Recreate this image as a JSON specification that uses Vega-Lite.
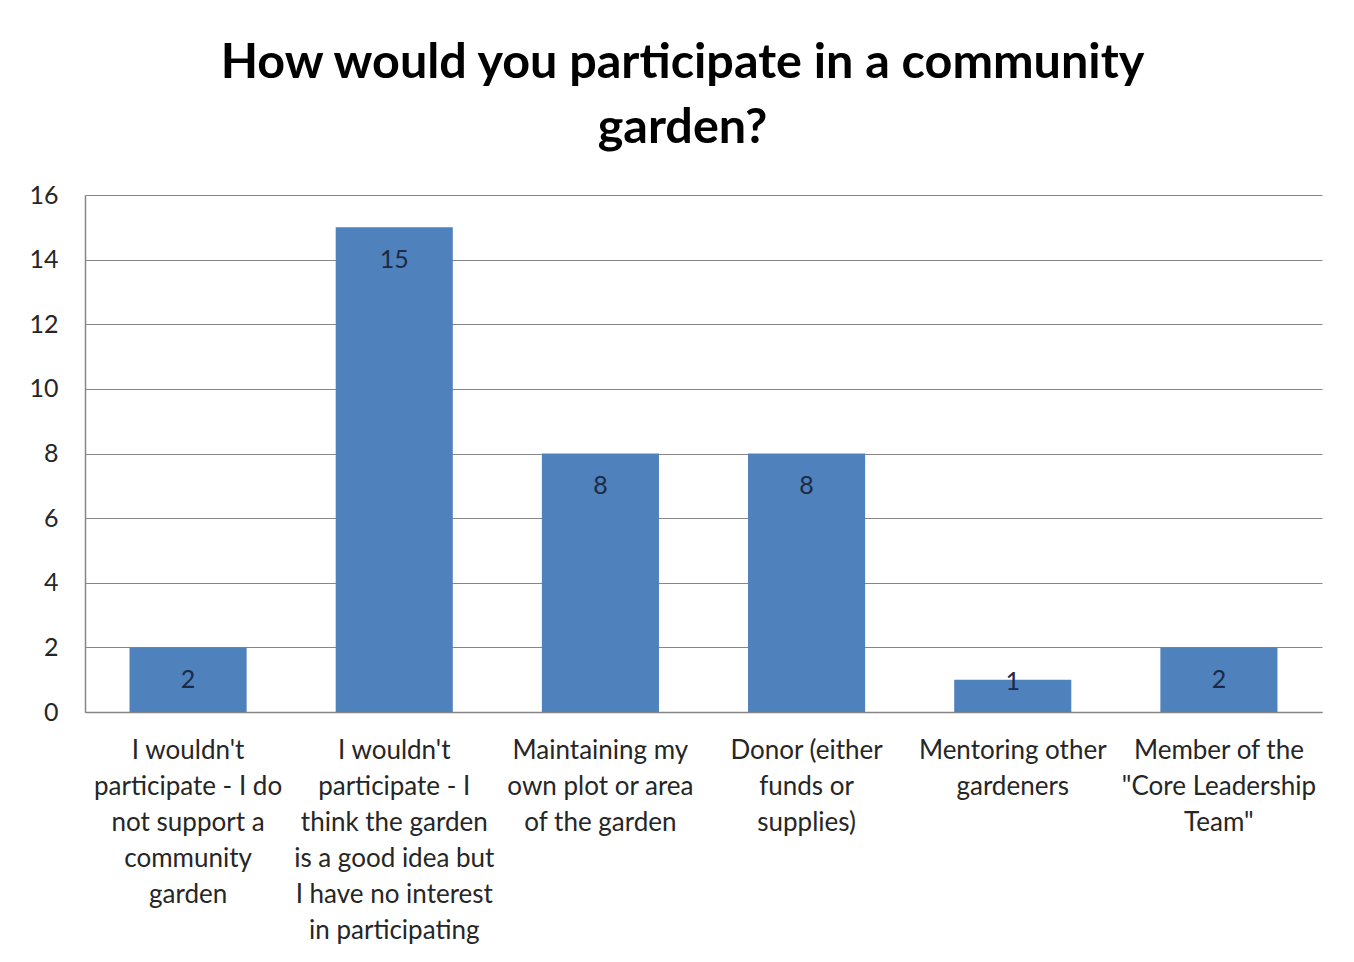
{
  "$schema": "https://vega.github.io/schema/vega-lite/v6.json",
  "width": 1237,
  "height": 517,
  "autosize": {"type": "none"},
  "padding": {"left": 85, "top": 195, "right": 32, "bottom": 250},
  "background": "white",
  "title": {
    "text": ["How would you participate in a community", "garden?"],
    "font": "Lato",
    "fontSize": 48.5,
    "fontWeight": "bold",
    "color": "#000000",
    "lineHeight": 65,
    "anchor": "middle",
    "dx": -21,
    "offset": 30
  },
  "data": {
    "values": [
      {"category": "I wouldn't participate - I do not support a community garden", "value": 2},
      {"category": "I wouldn't participate - I think the garden is a good idea but I have no interest in participating", "value": 15},
      {"category": "Maintaining my own plot or area of the garden", "value": 8},
      {"category": "Donor (either funds or supplies)", "value": 8},
      {"category": "Mentoring other gardeners", "value": 1},
      {"category": "Member of the \"Core Leadership Team\"", "value": 2}
    ]
  },
  "encoding": {
    "x": {
      "field": "category",
      "type": "nominal",
      "sort": null,
      "scale": {"paddingInner": 0.432, "paddingOuter": 0.216},
      "axis": {
        "title": null,
        "labelAngle": 0,
        "labelFont": "Lato",
        "labelFontSize": 26,
        "labelColor": "#262626",
        "labelLineHeight": 36,
        "labelPadding": 25,
        "labelLimit": 0,
        "labelBaseline": "top",
        "ticks": false,
        "domainColor": "#868686",
        "domainWidth": 1.5,
        "labelExpr": "{'I wouldn\\'t participate - I do not support a community garden': ['I wouldn\\'t', 'participate - I do', 'not support a', 'community', 'garden'], 'I wouldn\\'t participate - I think the garden is a good idea but I have no interest in participating': ['I wouldn\\'t', 'participate - I', 'think the garden', 'is a good idea but', 'I have no interest', 'in participating'], 'Maintaining my own plot or area of the garden': ['Maintaining my', 'own plot or area', 'of the garden'], 'Donor (either funds or supplies)': ['Donor (either', 'funds or', 'supplies)'], 'Mentoring other gardeners': ['Mentoring other', 'gardeners'], 'Member of the \"Core Leadership Team\"': ['Member of the', '\"Core Leadership', 'Team\"']}[datum.label]"
      }
    }
  },
  "layer": [
    {
      "mark": {"type": "bar", "color": "#4F81BD"},
      "encoding": {
        "y": {
          "field": "value",
          "type": "quantitative",
          "scale": {"domain": [0, 16], "nice": false},
          "axis": {
            "title": null,
            "values": [0, 2, 4, 6, 8, 10, 12, 14, 16],
            "labelFont": "Lato",
            "labelFontSize": 25,
            "labelColor": "#262626",
            "labelPadding": 27,
            "ticks": false,
            "domainColor": "#868686",
            "domainWidth": 1.5,
            "grid": true,
            "gridColor": "#868686",
            "gridWidth": 1.2
          }
        }
      }
    },
    {
      "transform": [{"calculate": "max(datum.value - 1.02, 0.93)", "as": "labelPos"}],
      "mark": {"type": "text", "font": "Lato", "fontSize": 25, "color": "#1c2a45", "baseline": "middle", "align": "center"},
      "encoding": {
        "y": {"field": "labelPos", "type": "quantitative"},
        "text": {"field": "value", "type": "quantitative"}
      }
    }
  ],
  "config": {"view": {"stroke": null}}
}
